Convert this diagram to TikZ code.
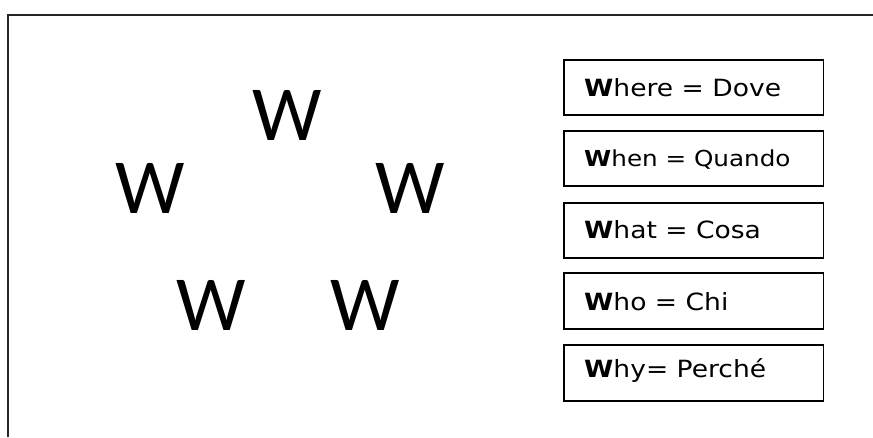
\documentclass[tikz,border=0pt]{standalone}
\usepackage{fontspec}
\setmainfont{DejaVu Sans}
\newfontfamily\bigwfont{Carlito}
\newcommand{\wstretch}[1]{\scalebox{1.12}[1]{#1}}
\begin{document}
\begin{tikzpicture}[x=1pt,y=-1pt,
  wbox/.style={draw=black,line width=1.6pt,minimum width=259.5pt,minimum height=55.5pt,inner sep=0pt},
  wtext/.style={anchor=base west,inner sep=0pt,font=\fontsize{23.7}{26}\selectfont},
  wtextsmall/.style={wtext,font=\fontsize{22}{26}\selectfont},
  bigw/.style={anchor=base,inner sep=0pt,font=\bigwfont\fontsize{78}{80}\selectfont}]
\useasboundingbox (0,0) rectangle (873,437);
\coordinate (fb) at (7.5,437);
\coordinate (fc) at (7.5,14.5);
\coordinate (fr) at (873,14.5);
\draw[line width=2pt,black!85] (fb) -- (fc) -- (fr);
% boxes
\node[wbox] (b1) at (693.75,87.5) {};
\node[wbox] (b2) at (693.75,158.5) {};
\node[wbox] (b3) at (693.75,230.5) {};
\node[wbox] (b4) at (693.75,301) {};
\node[wbox] (b5) at (693.75,373) {};
\node[wtext] (t1) at (584,96.7) {\wstretch{\textbf{W}here = Dove}};
\node[wtextsmall] (t2) at (584,166) {\wstretch{\textbf{W}hen = Quando}};
\node[wtext] (t3) at (584,238) {\wstretch{\textbf{W}hat = Cosa}};
\node[wtext] (t4) at (584,310) {\wstretch{\textbf{W}ho = Chi}};
\node[wtext] (t5) at (584,377) {\wstretch{\textbf{W}hy= Perché}};
% big Ws
\node[bigw] (w1) at (287,140) {W};
\node[bigw] (w2) at (150,213) {W};
\node[bigw] (w3) at (410,213) {W};
\node[bigw] (w4) at (211,330) {W};
\node[bigw] (w5) at (365,330) {W};
\end{tikzpicture}
\end{document}
